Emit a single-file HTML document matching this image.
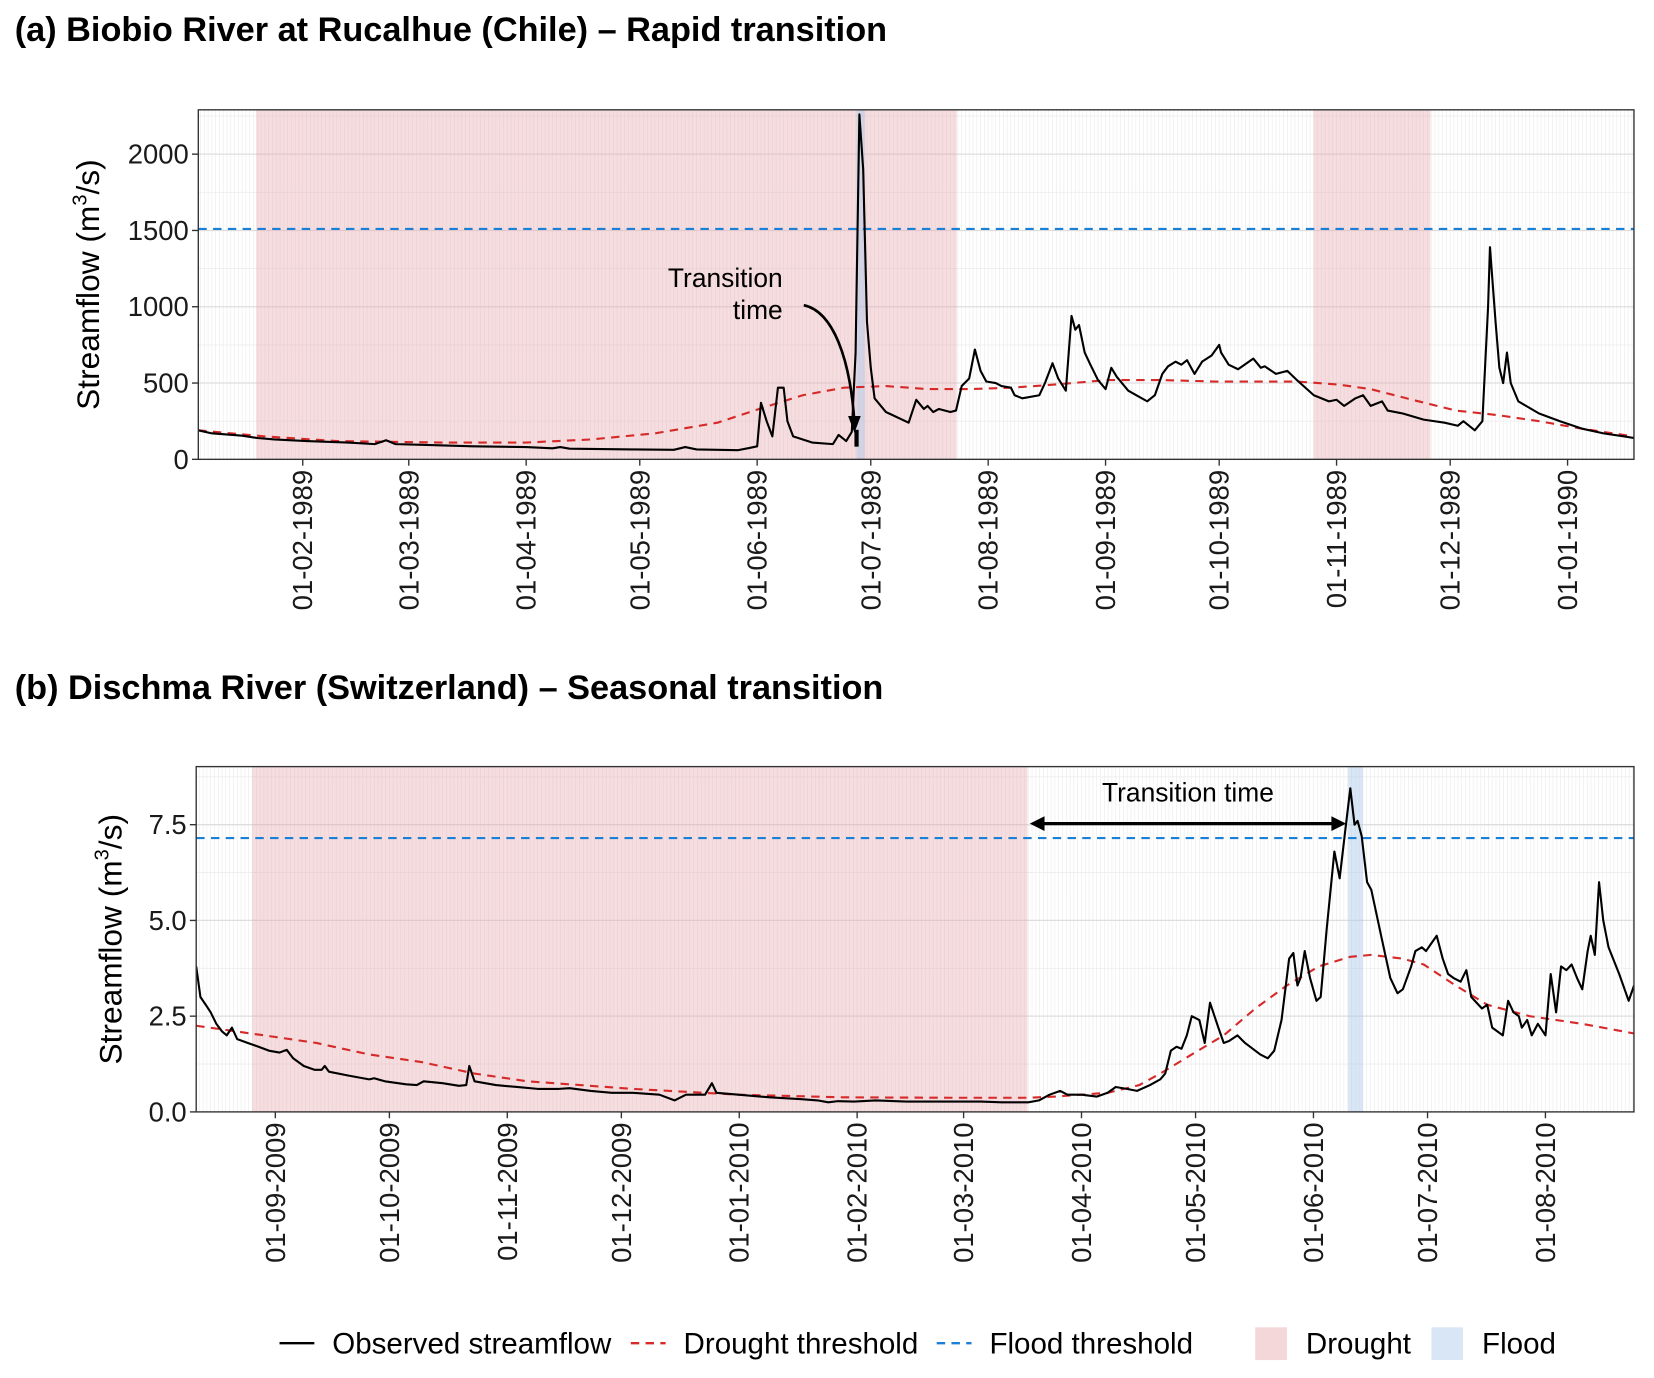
<!DOCTYPE html>
<html><head><meta charset="utf-8"><style>
html,body{margin:0;padding:0;background:#fff;}
svg{display:block;font-family:"Liberation Sans",Arial,sans-serif;}
</style></head><body>
<svg id="fig" width="1654" height="1378" viewBox="0 0 1568 1305" preserveAspectRatio="none" xmlns="http://www.w3.org/2000/svg">
<g id="root"></g>
</svg>
<script>
// ---------- Panel A data (days since 01-02-1989) ----------
const aTickDays = [0,28,59,89,120,150,181,212,242,273,303,334];
const aTickLabels = ["01-02-1989","01-03-1989","01-04-1989","01-05-1989","01-06-1989","01-07-1989","01-08-1989","01-09-1989","01-10-1989","01-11-1989","01-12-1989","01-01-1990"];
const aYTicks = [0,500,1000,1500,2000];
const aObsDays = [-27.6,-24,-16,-12,-7.5,1,12,19,22,24.5,31.5,45,59,66,68,70.5,87,98,101,104,115,118,120,121,122.5,124,125.5,127,128,129.5,134.5,140,141.5,143.5,145,146,147,148,149,150,151,154,160,162,164,165,166.5,168,171,172.5,174,176,177.5,179,180.5,183,184.5,187,188,190,194.5,196,198,199.5,201.5,203,204,205,206.5,208,210,212,213.5,215,218,223,225,227,228.5,230.5,232,233.5,235.5,237.5,240,242,242.5,244.5,247,251,253,254,257,260,262.5,267,271,273,275,278,280,282,285,286.5,290.5,296,301.5,305,306.5,309.5,311.5,313,313.5,315,316,317,318,319,321,326.5,332,338,343.5,349,351.5];
const aObsFlow = [190,170,155,140,130,120,110,100,125,100,95,85,80,72,80,70,65,62,80,65,60,75,85,370,250,150,470,470,250,150,110,100,160,120,180,700,2260,1900,900,600,400,310,240,390,330,350,310,330,310,320,480,530,720,580,510,500,480,470,420,400,420,500,630,530,450,940,850,880,700,620,520,460,600,540,450,380,420,560,610,640,620,650,560,640,680,750,700,620,590,660,600,610,560,580,520,420,380,390,350,400,420,350,380,320,300,260,240,220,250,190,250,1000,1390,900,600,500,700,500,380,300,250,200,170,150,140];
const aThrDays = [-27.6,-10,9,37,59,76,93,109.5,120.5,132,143,154,165,176,187.5,198.5,212.5,226.5,240.5,254,262.5,273.5,282,293,304.5,315.5,326.5,338,351.5];
const aThrFlow = [190,150,120,110,110,130,170,240,330,420,470,480,460,460,470,490,520,520,510,510,510,490,460,390,320,290,250,200,150];
const aFloodThr = 1510;
const aDroughtStart = [-12.3,266.9];
const aDroughtEnd = [172.7,297.8];
const aFloodStart = [146.2];
const aFloodEnd = [148.5];

// ---------- Panel B data (days since 01-09-2009) ----------
const bTickDays = [0,30,61,91,122,153,181,212,242,273,303,334];
const bTickLabels = ["01-09-2009","01-10-2009","01-11-2009","01-12-2009","01-01-2010","01-02-2010","01-03-2010","01-04-2010","01-05-2010","01-06-2010","01-07-2010","01-08-2010"];
const bYTicks = [0,2.5,5,7.5];
const bYTickLabels = ["0.0","2.5","5.0","7.5"];
const bObsDays = [-20.8,-19.7,-18.3,-17,-15.5,-14,-12.8,-11.4,-10,-7.2,-4.4,-1.7,1.1,3,4.7,7.5,10.3,12.2,13,14.1,19.1,24.7,26,28.8,34.4,37.2,39,44,48.3,50.2,51,52.4,58,63.5,69,74.6,77.4,83,88.5,94,101,105,108,113,114.8,116,121.8,130,138.4,142.6,145.4,148,152.3,157.8,166,177,185.6,191,198,200.8,203.6,206.4,208.3,212,216,218.9,221,223.9,226.6,230,232.7,234,235.5,237,238.3,239.7,241,243,244.4,245.8,248,249.4,250.8,253,255,259,261,262.7,264.6,266.6,267.7,268.8,269.6,270.7,272.1,273.8,274.9,276.5,278.5,279.9,281.3,282.7,283.8,284.6,285.7,287.1,288.2,291,293.2,295.1,296.5,298.7,299.8,301.5,302.6,304,305.4,307,308.4,309.8,311.7,313.2,314.5,317.3,318.7,320,322.8,324.2,325.6,327,327.8,329.2,330.4,332,334,335.4,336.8,338.1,339.5,340.9,342.3,343.7,345.1,345.9,347,348.1,349.2,350.6,353.4,355.9,357.3];
const bObsFlow = [3.8,3.0,2.8,2.6,2.3,2.1,2.0,2.2,1.9,1.8,1.7,1.6,1.55,1.62,1.4,1.2,1.1,1.1,1.2,1.05,0.95,0.85,0.88,0.8,0.72,0.7,0.8,0.75,0.68,0.7,1.2,0.8,0.7,0.65,0.6,0.6,0.62,0.55,0.5,0.5,0.45,0.3,0.45,0.45,0.75,0.5,0.45,0.38,0.33,0.3,0.25,0.28,0.27,0.3,0.27,0.27,0.27,0.25,0.25,0.3,0.45,0.55,0.45,0.45,0.4,0.5,0.65,0.6,0.55,0.7,0.85,1.0,1.6,1.7,1.65,2.0,2.5,2.4,1.8,2.85,2.2,1.8,1.85,2.0,1.8,1.5,1.4,1.6,2.4,4.0,4.15,3.3,3.5,4.2,3.5,2.9,3.0,4.8,6.8,6.1,7.3,8.45,7.5,7.6,7.2,6.0,5.8,4.5,3.5,3.1,3.2,3.8,4.2,4.3,4.2,4.4,4.6,4.0,3.6,3.5,3.4,3.7,3.0,2.7,2.8,2.2,2.0,2.9,2.6,2.5,2.2,2.4,2.0,2.3,2.0,3.6,2.6,3.8,3.7,3.85,3.5,3.2,4.2,4.6,4.1,6.0,5.0,4.3,3.6,2.9,3.3];
const bThrDays = [-20.8,-3,10.8,24.7,38.6,52.4,66.3,94,121.8,149.5,177,198,205,218.9,227.2,232.7,241,249.4,257.7,266,274.4,282.7,288.2,296.5,302,310.4,318.7,329.8,343.7,357.3];
const bThrFlow = [2.25,2.0,1.8,1.5,1.3,1.0,0.8,0.6,0.45,0.38,0.37,0.37,0.4,0.5,0.7,1.0,1.5,2.0,2.7,3.3,3.8,4.05,4.1,4.0,3.85,3.3,2.8,2.5,2.3,2.05];
const bFloodThr = 7.15;
const bDroughtStart = [-6.1];
const bDroughtEnd = [197.8];
const bFloodStart = [282.1];
const bFloodEnd = [286.0];
const bTransitionStart = 198.4;
const bTransitionEnd = 281.6;

const NS = "http://www.w3.org/2000/svg";
const root = document.getElementById('root');
function mk(tag, attrs, parent, text){
  const e = document.createElementNS(NS, tag);
  for (const k in attrs) e.setAttribute(k, attrs[k]);
  if (text !== undefined) e.textContent = text;
  (parent||root).appendChild(e);
  return e;
}

function panel(cfg){
  const g = mk('g', {});
  
  
  const {L,R,T,B} = cfg;
  const x = d => cfg.x0 + d*cfg.pxPerDay;
  const y = v => B - (v - 0) * (B - cfg.yRefPx) / cfg.yRef;
  const t = mk('text', {x:14, y:cfg.titleY, 'font-size':32.5, 'font-weight':'bold', fill:'#000'}, g, cfg.title);
  
  
  const cid = cfg.name + '-clip';
  const defs = mk('defs', {}, g);
  const cp = mk('clipPath', {id:cid}, defs);
  mk('rect', {x:L, y:T, width:R-L, height:B-T}, cp);
  const pg = mk('g', {'clip-path':'url(#'+cid+')'}, g);
  mk('rect', {x:L, y:T, width:R-L, height:B-T, fill:'#fff'}, pg);
  const dStart = Math.ceil((L - cfg.x0)/cfg.pxPerDay), dEnd = Math.floor((R - cfg.x0)/cfg.pxPerDay);
  let dp = '';
  for (let d = dStart; d <= dEnd; d++){ const xx = x(d).toFixed(2); dp += 'M'+xx+' '+T+'V'+B; }
  mk('path', {d:dp, stroke:'#ebebeb', 'stroke-width':0.6, fill:'none'}, pg);
  const step = cfg.yTicks[1]-cfg.yTicks[0];
  for (let v = 0; y(v) >= T; v += step/2){
    const major = Math.abs((v/step) - Math.round(v/step)) < 1e-6;
    mk('line', {x1:L, x2:R, y1:y(v), y2:y(v), stroke: major?'#dedede':'#ededed', 'stroke-width': major?1.2:0.8}, pg);
  }
  cfg.dS.forEach((s,i)=>{
    const r = mk('rect', {x:x(s), y:T, width:x(cfg.dE[i])-x(s), height:B-T, fill:'#e8a5ab', 'fill-opacity':0.38}, pg);
    
    
  });
  cfg.fS.forEach((s,i)=>{
    const r = mk('rect', {x:x(s), y:T, width:x(cfg.fE[i])-x(s), height:B-T, fill:'#a9c8ea', 'fill-opacity':0.45}, pg);
    
    
  });
  const ft = mk('line', {x1:L, x2:R, y1:y(cfg.floodThr), y2:y(cfg.floodThr), stroke:'#1a7fd6', 'stroke-width':2, 'stroke-dasharray':'8 6'}, pg);
  
  
  let d1 = cfg.thrDays.map((d,i)=>(i?'L':'M')+x(d).toFixed(1)+' '+y(cfg.thrFlow[i]).toFixed(1)).join('');
  const dt = mk('path', {d:d1, stroke:'#d62a2a', 'stroke-width':2, 'stroke-dasharray':'8 6', fill:'none'}, pg);
  
  
  let d2 = cfg.obsDays.map((d,i)=>(i?'L':'M')+x(d).toFixed(1)+' '+y(cfg.obsFlow[i]).toFixed(1)).join('');
  const ob = mk('path', {d:d2, stroke:'#000', 'stroke-width':2, fill:'none', 'stroke-linejoin':'round'}, pg);
  
  
  mk('rect', {x:L, y:T, width:R-L, height:B-T, fill:'none', stroke:'#333', 'stroke-width':1.3}, g);
  const ya = mk('g', {}, g);
  
  
  cfg.yTicks.forEach((v,i)=>{
    mk('line', {x1:L-6, x2:L, y1:y(v), y2:y(v), stroke:'#333', 'stroke-width':1.3}, ya);
    const tl = mk('text', {x:L-9, y:y(v)+9, 'text-anchor':'end', 'font-size':26, fill:'#1a1a1a'}, ya, cfg.yLabels[i]);
    
    
  });
  const yt = mk('text', {transform:'translate('+cfg.yTitleX+','+((T+B)/2)+') rotate(-90)', 'text-anchor':'middle', 'font-size':30, fill:'#000'}, ya);
  
  
  mk('tspan', {}, yt, 'Streamflow (m');
  mk('tspan', {'font-size':19, dy:-12}, yt, '3');
  mk('tspan', {dy:12}, yt, '/s)');
  const xa = mk('g', {}, g);
  
  
  cfg.xTicks.forEach((d,i)=>{
    mk('line', {x1:x(d), x2:x(d), y1:B, y2:B+6, stroke:'#333', 'stroke-width':1.3}, xa);
    const tl = mk('text', {transform:'translate('+(x(d)+9)+','+(B+10)+') rotate(-90)', 'text-anchor':'end', 'font-size':26, fill:'#1a1a1a'}, xa, cfg.xLabels[i]);
    
    
  });
  return {g,x,y};
}

const A = panel({name:'panel-a', title:'(a) Biobio River at Rucalhue (Chile) \u2013 Rapid transition', titleY:39,
  L:188,R:1549,T:104,B:435, x0:287, pxPerDay:3.59, yRef:2000, yRefPx:146, yTitleX:94,
  yTicks:aYTicks, yLabels:aYTicks.map(String), xTicks:aTickDays, xLabels:aTickLabels,
  dS:aDroughtStart,dE:aDroughtEnd,fS:aFloodStart,fE:aFloodEnd, floodThr:aFloodThr,
  thrDays:aThrDays,thrFlow:aThrFlow,obsDays:aObsDays,obsFlow:aObsFlow});
const B = panel({name:'panel-b', title:'(b) Dischma River (Switzerland) \u2013 Seasonal transition', titleY:662,
  L:186,R:1549,T:726,B:1053, x0:261, pxPerDay:3.605, yRef:7.5, yRefPx:781, yTitleX:115,
  yTicks:bYTicks, yLabels:bYTickLabels, xTicks:bTickDays, xLabels:bTickLabels,
  dS:bDroughtStart,dE:bDroughtEnd,fS:bFloodStart,fE:bFloodEnd, floodThr:bFloodThr,
  thrDays:bThrDays,thrFlow:bThrFlow,obsDays:bObsDays,obsFlow:bObsFlow});

const annA = mk('g', {}, A.g);


mk('text', {x:742, y:272, 'text-anchor':'end', 'font-size':25}, annA, 'Transition');
mk('text', {x:742, y:302, 'text-anchor':'end', 'font-size':25}, annA, 'time');
mk('path', {d:'M762 289 C790 295 806 340 810 400', stroke:'#000', 'stroke-width':2.5, fill:'none'}, annA);
mk('path', {d:'M804 394 L816 394 L810 410 Z', fill:'#000'}, annA);
mk('line', {x1:812, x2:812, y1:407, y2:423, stroke:'#000', 'stroke-width':4}, annA);

const annB = mk('g', {}, B.g);


const ax1 = B.x(bTransitionStart), ax2 = B.x(bTransitionEnd);
mk('text', {x:(ax1+ax2)/2, y:759, 'text-anchor':'middle', 'font-size':25}, annB, 'Transition time');
mk('line', {x1:ax1+10, x2:ax2-10, y1:780, y2:780, stroke:'#000', 'stroke-width':3}, annB);
mk('path', {d:`M${ax1} 780 L${ax1+14} 773 L${ax1+14} 787 Z`, fill:'#000'}, annB);
mk('path', {d:`M${ax2} 780 L${ax2-14} 773 L${ax2-14} 787 Z`, fill:'#000'}, annB);

const lg = mk('g', {});


function legEntry(name, sx, tx, label, draw){
  const e = mk('g', {}, lg);
  
  
  draw(e, sx);
  mk('text', {x:tx, y:1282, 'font-size':28}, e, label);
}
legEntry('legend-observed', 265, 315, 'Observed streamflow', (e,s)=>mk('line',{x1:s,x2:s+33,y1:1272,y2:1272,stroke:'#000','stroke-width':2.2},e));
legEntry('legend-drought-threshold', 598, 648, 'Drought threshold', (e,s)=>mk('line',{x1:s,x2:s+33,y1:1272,y2:1272,stroke:'#d62a2a','stroke-width':2.2,'stroke-dasharray':'8 6'},e));
legEntry('legend-flood-threshold', 888, 938, 'Flood threshold', (e,s)=>mk('line',{x1:s,x2:s+33,y1:1272,y2:1272,stroke:'#1a7fd6','stroke-width':2.2,'stroke-dasharray':'8 6'},e));
legEntry('legend-drought', 1190, 1238, 'Drought', (e,s)=>mk('rect',{x:s,y:1257,width:30,height:31,fill:'#f4d7d9'},e));
legEntry('legend-flood', 1357, 1405, 'Flood', (e,s)=>mk('rect',{x:s,y:1257,width:30,height:31,fill:'#d8e6f5'},e));
</script>
</body></html>
